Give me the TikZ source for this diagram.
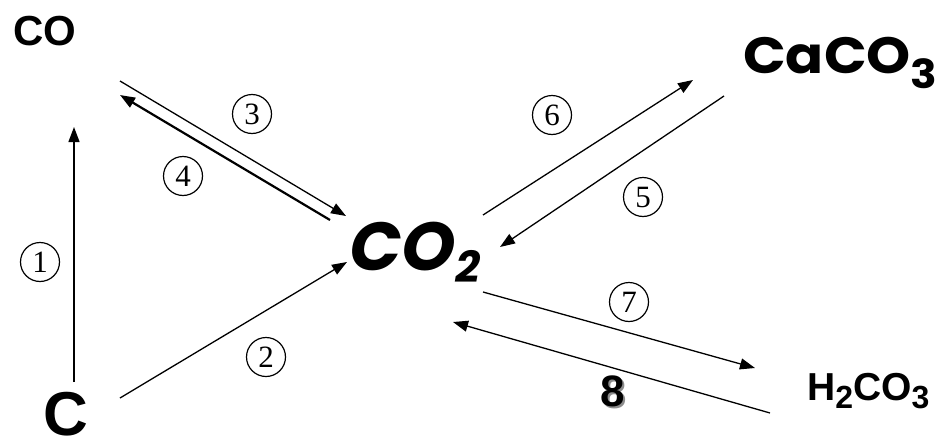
\documentclass[tikz,border=0pt]{standalone}
\usepackage{fontspec}
\setmainfont{Liberation Sans}
\newfontface\comicfont{Poppins Bold}
\newfontface\comicslant{Poppins Bold}[FakeSlant=0.18]
\newfontfamily\serifdig{Liberation Serif}
\usetikzlibrary{arrows.meta}
\tikzset{
  rxn/.style={line width=1.3pt, -{Triangle[length=15pt,width=11pt]}},
  rxnthick/.style={line width=2.2pt, -{Triangle[length=15pt,width=11pt]}},
  num/.style={circle, draw, line width=1.2pt, minimum size=39pt, inner sep=0pt,
    font=\serifdig\fontsize{31}{34}\selectfont},
  chem/.style={inner sep=0pt, anchor=base west},
}
\begin{document}
\begin{tikzpicture}[x=1pt,y=-1pt]
\useasboundingbox (0,0) rectangle (939,439);
% species
\node[chem] (co) at (13,45) {\bfseries\fontsize{42}{50}\selectfont CO};
\node[chem] (c) at (43,435) {\bfseries\fontsize{62}{70}\selectfont C};
\node[chem] (co2) at (346,270) {\comicslant\fontsize{68}{80}\selectfont CO\kern2pt\raisebox{-12pt}{\fontsize{43}{50}\selectfont 2}};
\node[chem, xscale=1.1] (caco3) at (743,73) {\comicfont\fontsize{51}{60}\selectfont CaCO\raisebox{-15pt}{\fontsize{40}{45}\selectfont 3}};
\node[chem] (h2co3) at (807,400) {\bfseries\fontsize{39}{45}\selectfont H\raisebox{-8pt}{\fontsize{32}{38}\selectfont 2}CO\raisebox{-8pt}{\fontsize{32}{38}\selectfont 3}};
% arrow end points
\coordinate (a1s) at (74,382);  \coordinate (a1e) at (74,127);
\coordinate (a2s) at (120,398); \coordinate (a2e) at (347,262);
\coordinate (a3s) at (120,81);  \coordinate (a3e) at (346,216);
\coordinate (a4s) at (330,220); \coordinate (a4e) at (120,95);
\coordinate (a6s) at (483,215); \coordinate (a6e) at (693,80);
\coordinate (a5s) at (724,96);  \coordinate (a5e) at (500,247);
\coordinate (a7s) at (483,292); \coordinate (a7e) at (755,368);
\coordinate (a8s) at (770,413); \coordinate (a8e) at (453,322);
% arrows
\draw[rxn] (a1s) -- (a1e);
\draw[rxn] (a2s) -- (a2e);
\draw[rxn] (a3s) -- (a3e);
\draw[rxnthick] (a4s) -- (a4e);
\draw[rxn] (a6s) -- (a6e);
\draw[rxn] (a5s) -- (a5e);
\draw[rxn] (a7s) -- (a7e);
\draw[rxn] (a8s) -- (a8e);
% labels
\node[num] (n1) at (40,262) {1};
\node[num] (n2) at (266,357) {2};
\node[num] (n3) at (252,114) {3};
\node[num] (n4) at (183,176) {4};
\node[num] (n5) at (643,197) {5};
\node[num] (n6) at (552,115) {6};
\node[num] (n7) at (629,302) {7};
\node[font=\bfseries\fontsize{44}{50}\selectfont, inner sep=0pt, anchor=base] (n8) at (612.5,406)
  {\rlap{\kern2pt\raisebox{-2pt}{\color{black!45}8}}8};
\end{tikzpicture}
\end{document}
